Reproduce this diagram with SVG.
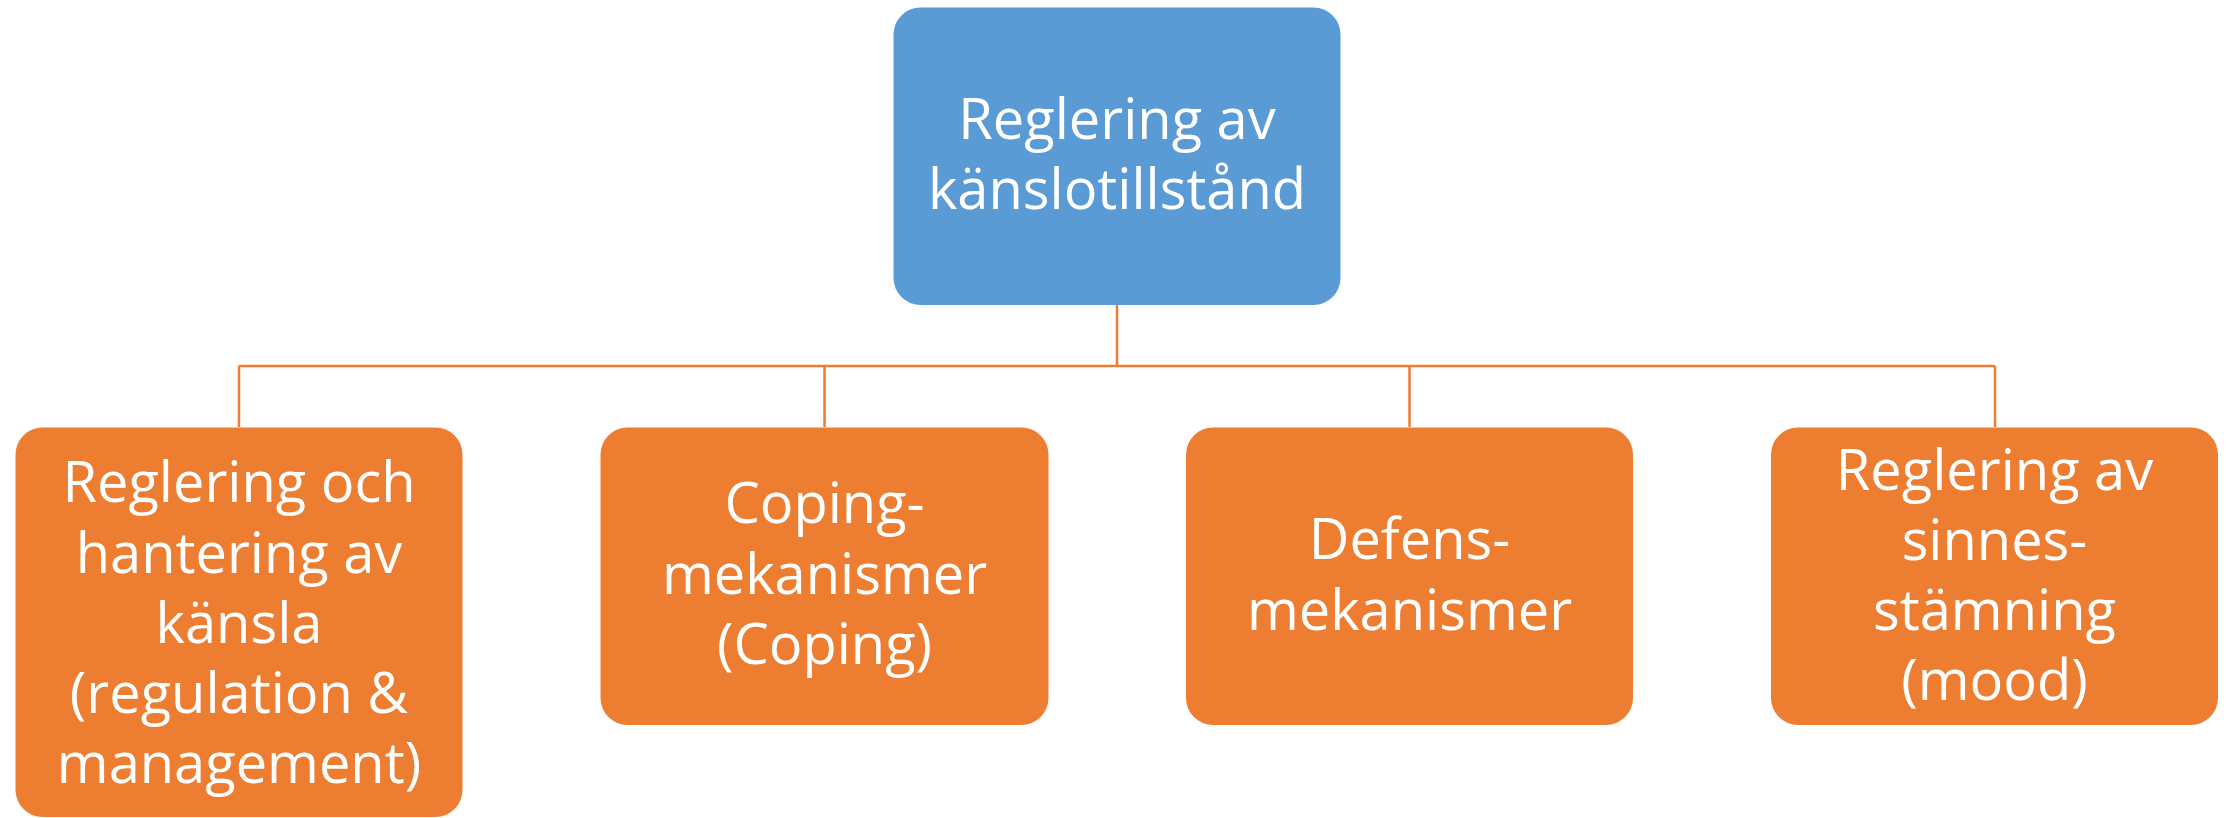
<svg xmlns="http://www.w3.org/2000/svg" width="2226" height="818" viewBox="0 0 2226 818">
  <style>
    .root { fill: #5B9BD5; }
    .child { fill: #ED7D31; }
    .link { fill: none; stroke: #ED7D31; stroke-width: 2.5; }
    text { font-family: "Open Sans", "Noto Sans", sans-serif; font-size: 56px; fill: #FFFFFF; text-anchor: middle; }
  </style>

  <!-- hierarchy connectors -->
  <g id="connectors">
    <path class="link" d="M1117 305 V366"/>
    <path class="link" d="M239 366 H1995"/>
    <path class="link" d="M239 366 V427"/>
    <path class="link" d="M824.5 366 V427"/>
    <path class="link" d="M1409.5 366 V427"/>
    <path class="link" d="M1995 366 V427"/>
  </g>

  <g id="node-root">
    <rect class="root" x="893.5" y="7.5" width="447" height="297.5" rx="27" ry="27"/>
    <text x="1117" y="139">Reglering av</text>
    <text x="1117" y="209">känslotillstånd</text>
  </g>

  <g id="node-regulation">
    <rect class="child" x="15.5" y="427.5" width="447" height="389.5" rx="27" ry="27"/>
    <text x="239" y="502">Reglering och</text>
    <text x="239" y="572.5">hantering av</text>
    <text x="239" y="642.5">känsla</text>
    <text x="239" y="713">(regulation &amp;</text>
    <text x="239" y="783">management)</text>
  </g>

  <g id="node-coping">
    <rect class="child" x="600.5" y="427.5" width="448" height="297.5" rx="27" ry="27"/>
    <text x="824.5" y="523">Coping-</text>
    <text x="824.5" y="594">mekanismer</text>
    <text x="824.5" y="663.5">(Coping)</text>
  </g>

  <g id="node-defense">
    <rect class="child" x="1186" y="427.5" width="447" height="297.5" rx="27" ry="27"/>
    <text x="1409.5" y="558.5">Defens-</text>
    <text x="1409.5" y="629.5">mekanismer</text>
  </g>

  <g id="node-mood">
    <rect class="child" x="1771" y="427.5" width="447" height="297.5" rx="27" ry="27"/>
    <text x="1994.5" y="489.5">Reglering av</text>
    <text x="1994.5" y="559.5">sinnes-</text>
    <text x="1994.5" y="629.5">stämning</text>
    <text x="1994.5" y="700">(mood)</text>
  </g>
</svg>
